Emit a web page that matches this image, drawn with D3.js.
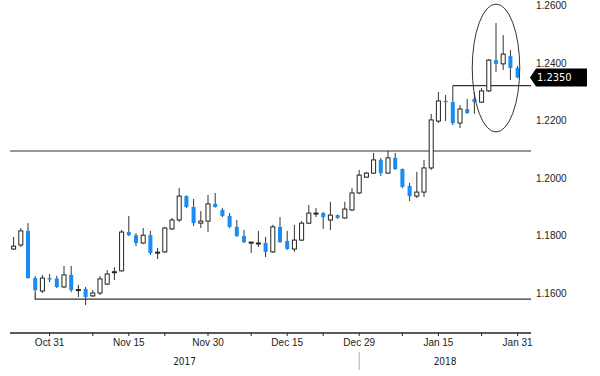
<!DOCTYPE html>
<html>
<head>
<meta charset="utf-8">
<script src="https://cdnjs.cloudflare.com/ajax/libs/d3/7.8.5/d3.min.js"></script>
<style>
  body { margin: 0; background: #fff; }
  svg { display: block; font-family: "DejaVu Sans Condensed", "DejaVu Sans", sans-serif; }
</style>
</head>
<body>
<svg id="chart" width="600" height="376"></svg>
<script>
"use strict";

// EUR/USD daily candles, 24 Oct 2017 - 30 Jan 2018
var dates = [
  "2017-10-24", "2017-10-25", "2017-10-26", "2017-10-27", "2017-10-30", "2017-10-31",
  "2017-11-01", "2017-11-02", "2017-11-03", "2017-11-06", "2017-11-07", "2017-11-08",
  "2017-11-09", "2017-11-10", "2017-11-13", "2017-11-14", "2017-11-15", "2017-11-16",
  "2017-11-17", "2017-11-20", "2017-11-21", "2017-11-22", "2017-11-23", "2017-11-24",
  "2017-11-27", "2017-11-28", "2017-11-29", "2017-11-30",
  "2017-12-01", "2017-12-04", "2017-12-05", "2017-12-06", "2017-12-07", "2017-12-08",
  "2017-12-11", "2017-12-12", "2017-12-13", "2017-12-14", "2017-12-15", "2017-12-18",
  "2017-12-19", "2017-12-20", "2017-12-21", "2017-12-22", "2017-12-25", "2017-12-26",
  "2017-12-27", "2017-12-28", "2017-12-29",
  "2018-01-01", "2018-01-02", "2018-01-03", "2018-01-04", "2018-01-05", "2018-01-08",
  "2018-01-09", "2018-01-10", "2018-01-11", "2018-01-12", "2018-01-15", "2018-01-16",
  "2018-01-17", "2018-01-18", "2018-01-19", "2018-01-22", "2018-01-23", "2018-01-24",
  "2018-01-25", "2018-01-26", "2018-01-29", "2018-01-30"
]

var opens = [
  1.1753, 1.1767, 1.1816, 1.1652, 1.1607, 1.1652,
  1.1650, 1.1621, 1.1663, 1.1610, 1.1614, 1.1590,
  1.1600, 1.1631, 1.1672, 1.1677, 1.1812, 1.1801,
  1.1774, 1.1801, 1.1740, 1.1743, 1.1823, 1.1854,
  1.1937, 1.1899, 1.1843, 1.1850,
  1.1910, 1.1889, 1.1868, 1.1830, 1.1798, 1.1775,
  1.1772, 1.1774, 1.1743, 1.1830, 1.1781, 1.1753,
  1.1784, 1.1843, 1.1876, 1.1878, 1.1854, 1.1871,
  1.1861, 1.1889, 1.1948,
  1.2003, 1.2017, 1.2063, 1.2017, 1.2070, 1.2031,
  1.1972, 1.1937, 1.1951, 1.2035, 1.2198, 1.2268,
  1.2264, 1.2191, 1.2240, 1.2275, 1.2264, 1.2303,
  1.2410, 1.2397, 1.2424, 1.2383
]

var highs = [
  1.1795, 1.1826, 1.1843, 1.1659, 1.1663, 1.1666,
  1.1660, 1.1694, 1.1694, 1.1628, 1.1621, 1.1610,
  1.1659, 1.1680, 1.1690, 1.1819, 1.1868, 1.1808,
  1.1826, 1.1816, 1.1757, 1.1830, 1.1861, 1.1965,
  1.1940, 1.1927, 1.1885, 1.1941,
  1.1948, 1.1896, 1.1878, 1.1854, 1.1819, 1.1778,
  1.1816, 1.1795, 1.1837, 1.1864, 1.1816, 1.1837,
  1.1850, 1.1906, 1.1896, 1.1882, 1.1917, 1.1873,
  1.1917, 1.1965, 1.2028,
  1.2021, 1.2087, 1.2070, 1.2094, 1.2087, 1.2033,
  1.1983, 1.2021, 1.2063, 1.2223, 1.2299, 1.2289,
  1.2321, 1.2254, 1.2275, 1.2299, 1.2313, 1.2414,
  1.2539, 1.2497, 1.2445, 1.2390
]

var lows = [
  1.1750, 1.1760, 1.1650, 1.1603, 1.1600, 1.1638,
  1.1617, 1.1617, 1.1603, 1.1586, 1.1558, 1.1586,
  1.1593, 1.1628, 1.1645, 1.1675, 1.1798, 1.1763,
  1.1770, 1.1732, 1.1718, 1.1740, 1.1819, 1.1847,
  1.1896, 1.1833, 1.1826, 1.1812,
  1.1897, 1.1864, 1.1826, 1.1795, 1.1774, 1.1739,
  1.1760, 1.1725, 1.1739, 1.1774, 1.1750, 1.1743,
  1.1781, 1.1840, 1.1864, 1.1823, 1.1819, 1.1858,
  1.1858, 1.1885, 1.1944,
  1.2000, 1.2014, 1.2007, 1.2014, 1.2028, 1.1965,
  1.1920, 1.1930, 1.1934, 1.2028, 1.2191, 1.2198,
  1.2184, 1.2174, 1.2223, 1.2223, 1.2261, 1.2299,
  1.2369, 1.2376, 1.2341, 1.2347
]

var closes = [
  1.1763, 1.1816, 1.1652, 1.1610, 1.1652, 1.1647,
  1.1621, 1.1663, 1.1610, 1.1612, 1.1586, 1.1600,
  1.1649, 1.1666, 1.1674, 1.1812, 1.1801, 1.1774,
  1.1801, 1.1739, 1.1742, 1.1826, 1.1854, 1.1937,
  1.1899, 1.1843, 1.1850, 1.1910,
  1.1899, 1.1868, 1.1830, 1.1798, 1.1777, 1.1777,
  1.1774, 1.1743, 1.1830, 1.1777, 1.1753, 1.1784,
  1.1843, 1.1878, 1.1878, 1.1864, 1.1871, 1.1861,
  1.1892, 1.1948, 1.2010,
  1.2017, 1.2063, 1.2017, 1.2070, 1.2031, 1.1969,
  1.1937, 1.1951, 1.2035, 1.2202, 1.2268, 1.2264,
  1.2191, 1.2240, 1.2226, 1.2264, 1.2303, 1.2410,
  1.2397, 1.2431, 1.2383, 1.2350
]

// axis ticks
var yTicks = [1.16, 1.18, 1.20, 1.22, 1.24, 1.26]
var xTickDates = ["2017-10-31", "2017-11-08", "2017-11-15", "2017-11-22", "2017-11-30",
  "2017-12-08", "2017-12-15", "2017-12-22", "2017-12-29", "2018-01-08", "2018-01-15",
  "2018-01-23", "2018-01-30"]
var xTickLabels = ["Oct 31", "", "Nov 15", "", "Nov 30", "", "Dec 15", "", "Dec 29", "",
  "Jan 15", "", "Jan 31"]
var years = ["2017", "2018"]
var yearBreak = "2017-12-29"

// drawn levels
var resistance = 1.2094
var support = 1.1579
var supportFrom = "2017-10-27"
var breakout = 1.2321
var breakoutFrom = "2018-01-17"
var lastPrice = 1.2350
var circleDate = "2018-01-25"
var circleRange = [1.2160, 1.2605]

var blue = "#1a8cf5"
var ink = "#222"
var plotLeft = 10, plotRight = 531, axisY = 333

var candles = dates.map((d, i) => ({
  date: d, open: opens[i], high: highs[i], low: lows[i], close: closes[i]
}))

var svg = d3.select("#chart")

var x = d3.scaleBand()
  .domain(dates)
  .range([plotLeft, plotLeft + dates.length * 7.2])
  .paddingInner(0.3)
  .paddingOuter(0.15)

var y = d3.scaleLinear()
  .domain([1.16, 1.24])
  .range([293, 63])

var cx = d => x(d) + x.bandwidth() / 2

/**
 * Horizontal levels and the circled area
 */
function drawLevels(g) {
  g.append("line")
    .attr("x1", plotLeft).attr("x2", plotRight)
    .attr("y1", y(resistance)).attr("y2", y(resistance))
    .attr("stroke", "#333").attr("stroke-width", 1.2)

  var s = candles.find(c => c.date == supportFrom)
  g.append("path")
    .attr("d", "M" + cx(s.date) + "," + y(s.low) + "V" + y(support) + "H" + plotRight)
    .attr("fill", "none").attr("stroke", "#333").attr("stroke-width", 1.2)

  g.append("path")
    .attr("d", "M" + cx(breakoutFrom) + "," + y(breakout) + "H" + plotRight)
    .attr("fill", "none").attr("stroke", "#333").attr("stroke-width", 1.2)
}

/**
 * Candles: black wicks, white up bodies, blue down bodies
 */
function drawCandles(g) {
  var c = g.selectAll("g.candle")
    .data(candles)
    .enter()
    .append("g")
      .attr("class", "candle")

  c.append("line")
    .attr("x1", d => cx(d.date)).attr("x2", d => cx(d.date))
    .attr("y1", d => y(d.high)).attr("y2", d => y(d.low))
    .attr("stroke", "#333")
    .attr("stroke-width", 1)

  c.append("rect")
    .attr("x", d => x(d.date) + 0.5)
    .attr("width", x.bandwidth() - 1)
    .attr("y", d => y(Math.max(d.open, d.close)))
    .attr("height", d => Math.max(1, Math.abs(y(d.open) - y(d.close))))
    .attr("fill", d => d.close >= d.open ? "#fff" : blue)
    .attr("stroke", d => d.close >= d.open ? "#222" : "none")
    .attr("stroke-width", 1)
}

function drawCircle(g) {
  var top = y(circleRange[1]), bottom = y(circleRange[0])
  g.append("ellipse")
    .attr("cx", cx(circleDate))
    .attr("cy", (top + bottom) / 2)
    .attr("rx", x.step() * 3.3)
    .attr("ry", (bottom - top) / 2)
    .attr("fill", "none")
    .attr("stroke", "#333")
    .attr("stroke-width", 1)
}

function drawAxes(g) {
  var yAxis = d3.axisRight(y)
    .tickValues(yTicks)
    .tickSize(0)
    .tickPadding(3)
    .tickFormat(d3.format(".4f"))

  var ya = g.append("g")
    .attr("transform", "translate(533,0)")
    .call(yAxis)
  ya.select(".domain").remove()
  ya.selectAll("text").attr("fill", ink).style("font-size", "10px")

  g.append("line")
    .attr("x1", plotLeft).attr("x2", plotRight)
    .attr("y1", axisY).attr("y2", axisY)
    .attr("stroke", "#222").attr("stroke-width", 1.3)

  var xAxis = d3.axisBottom(x)
    .tickValues(xTickDates)
    .tickSize(3)
    .tickPadding(3)
    .tickFormat((d, i) => xTickLabels[i])

  var xa = g.append("g")
    .attr("transform", "translate(0," + axisY + ")")
    .call(xAxis)
  xa.select(".domain").remove()
  xa.selectAll(".tick line").attr("stroke", "#222")
  xa.selectAll("text").attr("fill", ink).style("font-size", "10px")

  // year labels on each side of the break
  var bx = cx(yearBreak)
  g.append("line")
    .attr("x1", bx).attr("x2", bx)
    .attr("y1", 352).attr("y2", 370)
    .attr("stroke", "#aaa")

  g.selectAll("text.year")
    .data(years)
    .enter()
    .append("text")
      .attr("class", "year")
      .attr("x", (d, i) => i == 0 ? (plotLeft + bx) / 2 : (bx + plotRight) / 2)
      .attr("y", 365)
      .attr("text-anchor", "middle")
      .attr("fill", ink)
      .style("font-size", "10px")
      .text(d => d)
}

/**
 * Black price tag pointing at the last close
 */
function drawPriceTag(g) {
  var py = y(lastPrice)
  g.append("path")
    .attr("d", "M530," + py + "L536," + (py - 9) + "H587V" + (py + 9) + "H536Z")
    .attr("fill", "#000")
  g.append("text")
    .attr("x", 537)
    .attr("y", py)
    .attr("dy", "0.35em")
    .attr("fill", "#fff")
    .style("font-size", "11px")
    .text(d3.format(".4f")(lastPrice))
}

var root = svg.append("g")
drawLevels(root)
drawCandles(root)
drawCircle(root)
drawAxes(root)
drawPriceTag(root)
</script>
</body>
</html>
